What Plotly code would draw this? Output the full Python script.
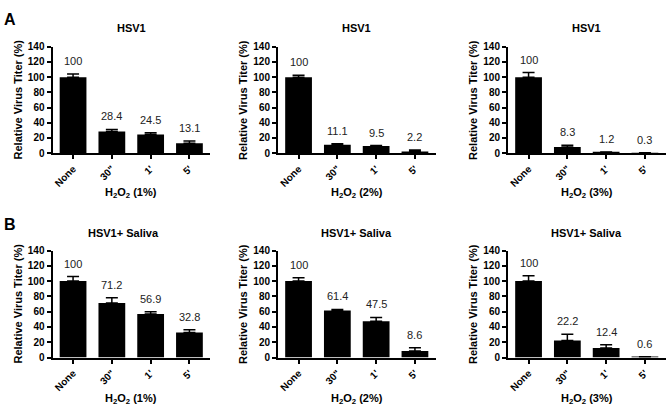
import plotly.graph_objects as go

W, H = 669, 410

categories = ["None", '30"', "1'", "5'"]

a1_values = [100, 28.4, 24.5, 13.1]
a1_errors = [4, 2.8, 2.3, 3.1]
a2_values = [100, 11.1, 9.5, 2.2]
a2_errors = [2.5, 1.2, 0.5, 2.0]
a3_values = [100, 8.3, 1.2, 0.3]
a3_errors = [6, 2.2, 0.4, 0.2]
b1_values = [100, 71.2, 56.9, 32.8]
b1_errors = [5.9, 7, 3, 3.5]
b2_values = [100, 61.4, 47.5, 8.6]
b2_errors = [4.5, 1.5, 5, 4.3]
b3_values = [100, 22.2, 12.4, 0.6]
b3_errors = [7, 8.3, 4.2, 0.3]

row_titles = ["HSV1", "HSV1+ Saliva"]
x_titles = ["H<sub>2</sub>O<sub>2</sub> (1%)", "H<sub>2</sub>O<sub>2</sub> (2%)", "H<sub>2</sub>O<sub>2</sub> (3%)"]
y_title = "Relative Virus Titer (%)"
y_ticks = [0, 20, 40, 60, 80, 100, 120, 140]

panels = [
    (a1_values, a1_errors, 0, 0),
    (a2_values, a2_errors, 0, 1),
    (a3_values, a3_errors, 0, 2),
    (b1_values, b1_errors, 1, 0),
    (b2_values, b2_errors, 1, 1),
    (b3_values, b3_errors, 1, 2),
]

# pixel geometry
lefts = [52.5, 278, 508]
pw = 157.5
rows_y = [(46.7, 153.2), (250.5, 357.5)]


def px(x):
    return x / W


def py(y):
    return 1 - y / H


fig = go.Figure()
annotations = []
FONT = "Liberation Sans, Arial, sans-serif"


def note(x, y, text, size=11, angle=0, **kw):
    d = dict(x=x, y=y, xref="paper", yref="paper", text=text,
             showarrow=False, xanchor="center", yanchor="middle",
             textangle=angle, font=dict(family=FONT, size=size, color="black"))
    d.update(kw)
    return d


for i, (vals, errs, r, c) in enumerate(panels):
    n = i + 1
    xa = "x" if n == 1 else f"x{n}"
    ya = "y" if n == 1 else f"y{n}"
    fig.add_trace(go.Bar(
        x=categories, y=vals, xaxis=xa, yaxis=ya,
        marker=dict(color="black", line=dict(width=0)),
        width=0.69,
        error_y=dict(type="data", symmetric=False, array=errs,
                     arrayminus=[0] * len(errs), color="black",
                     thickness=1.5, width=6),
        showlegend=False, hoverinfo="skip",
    ))
    top, bot = rows_y[r]
    left = lefts[c]
    xkey = "xaxis" if n == 1 else f"xaxis{n}"
    ykey = "yaxis" if n == 1 else f"yaxis{n}"
    fig.update_layout(**{
        xkey: dict(domain=[px(left), px(left + pw)], anchor=ya,
                   range=[-0.53, 3.53], showline=True, linecolor="black",
                   linewidth=2, ticks="outside", ticklen=4, tickwidth=1.5,
                   tickcolor="black", tickangle=-45, showgrid=False,
                   zeroline=False, automargin=False,
                   tickfont=dict(family=FONT, size=10, color="black", weight="bold")),
        ykey: dict(domain=[py(bot), py(top)], anchor=xa, range=[0, 140],
                   tickvals=y_ticks, showline=True, linecolor="black",
                   linewidth=2, ticks="outside", ticklen=4, tickwidth=1.5,
                   tickcolor="black", showgrid=False, zeroline=False,
                   automargin=False,
                   tickfont=dict(family=FONT, size=10, color="black", weight="bold")),
    })
    # value labels
    for cat, v, e in zip(categories, vals, errs):
        annotations.append(dict(
            x=cat, y=v + e, xref=xa, yref=ya, text=f"{v:g}",
            showarrow=False, xanchor="center", yanchor="bottom", yshift=5,
            font=dict(family=FONT, size=11, color="#222")))
    cx = left + pw / 2
    tx = cx - 8 if (r == 1 and c == 0) else cx
    annotations.append(note(px(tx), py(28 if r == 0 else 233),
                            f"<b>{row_titles[r]}</b>"))
    annotations.append(note(px(cx), py(193 if r == 0 else 399),
                            f"<b>{x_titles[c]}</b>"))
    annotations.append(note(px(left - 35), py((top + bot) / 2),
                            f"<b>{y_title}</b>", angle=-90))

annotations.append(note(px(10), py(19), "<b>A</b>", size=16))
annotations.append(note(px(10), py(224), "<b>B</b>", size=16))

fig.update_layout(
    width=W, height=H, margin=dict(l=0, r=0, t=0, b=0, autoexpand=False),
    plot_bgcolor="white", paper_bgcolor="white",
    annotations=annotations, bargap=0.31,
)

fig.write_html(
    "out.html",
    config={"displayModeBar": False},
    post_script="document.body.style.margin='0';document.body.style.overflow='hidden';",
)
